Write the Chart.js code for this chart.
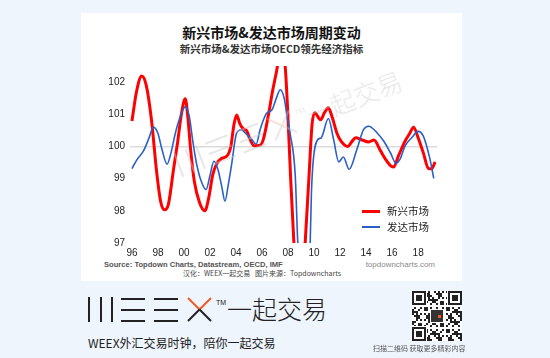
<!DOCTYPE html>
<html><head><meta charset="utf-8">
<script src="https://cdn.jsdelivr.net/npm/chart.js@4/dist/chart.umd.min.js"></script>
<style>
html,body{margin:0;padding:0;}
body{width:550px;height:358px;background:#eef5fd;position:relative;overflow:hidden;font-family:"Liberation Sans",Arial,sans-serif;}
.abs{position:absolute;white-space:nowrap;}
#card{left:81px;top:13px;width:381px;height:268px;background:#fff;}
#title{left:81px;width:381px;top:22px;text-align:center;font-weight:bold;font-size:14px;line-height:20px;font-family:"Noto Sans CJK SC",sans-serif;color:#111;}
#subtitle{left:81px;width:381px;top:42px;text-align:center;font-weight:bold;font-size:10.5px;line-height:14px;font-family:"Noto Sans CJK SC",sans-serif;color:#333;}
#chartwrap{left:95px;top:55px;width:360px;height:205px;}
.legline{height:3px;width:18px;}
.legtxt{font-size:10.5px;line-height:12px;font-family:"Noto Sans CJK SC",sans-serif;color:#222;}
#source{left:104px;top:260px;font-size:7.6px;font-weight:bold;color:#555;line-height:10px;}
#site{left:300px;width:135px;text-align:right;top:260px;font-size:8px;color:#8a8a8a;line-height:10px;}
#credit{left:81px;width:362px;text-align:center;top:269px;font-size:7px;color:#444;line-height:9px;font-family:"Noto Sans CJK SC",sans-serif;}
.logo{position:absolute;width:240px;height:25px;}
.logo div{position:absolute;}
.logo .bar{width:2px;height:25px;top:0;}
.logo .hl{height:2px;width:24px;}
.logo .tm{font-size:7px;line-height:8px;top:2px;left:128px;font-family:"Liberation Sans",sans-serif;}
.logo .cn{left:139px;top:-6px;font-size:25px;line-height:34px;font-weight:300;font-family:"Noto Sans CJK SC",sans-serif;letter-spacing:0px;}
#slogan{left:88px;top:334px;font-size:12px;line-height:17px;color:#222;font-family:"Noto Sans CJK SC",sans-serif;}
#qrcap{left:373px;top:343px;font-size:7px;line-height:10px;color:#555;font-family:"Noto Sans CJK SC",sans-serif;}
#qr{left:412px;top:291px;}
</style></head>
<body>
<div id="card" class="abs"></div>
<div id="title" class="abs">新兴市场&amp;发达市场周期变动</div>
<div id="subtitle" class="abs">新兴市场&amp;发达市场OECD领先经济指标</div>
<div id="chartwrap" class="abs"><canvas id="c" width="360" height="205"></canvas></div>
<div id="legend"></div>
<div id="source" class="abs">Source: Topdown Charts, Datastream, OECD, IMF</div>
<div id="site" class="abs">topdowncharts.com</div>
<div id="credit" class="abs">汉化：WEEX一起交易&nbsp;&nbsp;&nbsp;图片来源：Topdowncharts</div>
<div id="slogan" class="abs">WEEX外汇交易时钟，陪你一起交易</div>
<canvas id="qr" class="abs" width="50" height="50"></canvas>
<div id="qrcap" class="abs">扫描二维码 获取更多精彩内容</div>
<script>
// ---- data ----
const seriesNames = ['新兴市场', '发达市场'];
const emYears = [1996.0,1996.35,1996.75,1997.1,1997.5,1997.9,1998.2,1998.5,1998.8,1999.2,1999.5,1999.8,2000.1,2000.3,2000.5,2000.8,2001.2,2001.6,2001.9,2002.2,2002.5,2002.9,2003.3,2003.6,2003.85,2004.05,2004.3,2004.55,2004.8,2005.1,2005.4,2005.85,2006.1,2006.5,2006.8,2007.1,2007.4,2007.7,2007.95,2008.2,2008.45,2008.7,2009.0,2009.3,2009.6,2009.85,2010.05,2010.5,2010.8,2011.1,2011.4,2011.75,2012.1,2012.6,2012.9,2013.2,2013.7,2014.2,2014.6,2015.1,2015.5,2015.85,2016.1,2016.5,2017.0,2017.35,2017.65,2018.0,2018.4,2018.8,2019.05,2019.3];
const emValues = [100.79,101.7,102.19,101.9,100.83,99.2,98.3,98.03,98.2,99.3,100.1,101.0,101.48,100.9,99.95,98.9,98.25,98.0,98.4,99.1,99.45,99.63,99.7,100.0,100.7,100.98,100.7,100.55,100.5,100.2,100.02,100.04,100.22,101.0,101.7,102.3,102.9,102.8,101.3,99.0,97.0,95.3,95.0,96.9,99.0,100.7,101.05,100.83,101.05,101.2,100.9,100.42,100.15,100.0,100.15,100.27,100.2,100.14,100.2,99.87,99.6,99.41,99.36,99.72,100.17,100.4,100.6,100.27,99.8,99.31,99.31,99.52];
const dmYears = [1996.0,1996.4,1996.9,1997.3,1997.65,1998.0,1998.3,1998.7,1999.0,1999.3,1999.55,2000.1,2000.4,2000.7,2000.95,2001.3,2001.7,2002.0,2002.3,2002.6,2002.9,2003.15,2003.4,2003.65,2004.05,2004.4,2004.8,2005.2,2005.55,2005.85,2006.35,2006.75,2007.1,2007.4,2007.7,2007.9,2008.15,2008.55,2008.75,2009.1,2009.45,2009.7,2009.8,2009.95,2010.3,2010.55,2011.1,2011.5,2011.9,2012.25,2012.7,2013.3,2013.8,2014.2,2014.85,2015.35,2015.85,2016.3,2016.6,2017.0,2017.5,2018.0,2018.4,2018.9,2019.2];
const dmValues = [99.31,99.6,99.87,100.25,100.6,100.4,99.92,99.45,99.8,100.35,100.73,101.23,100.95,100.1,99.5,98.95,98.66,99.1,99.54,99.3,98.76,98.3,98.8,99.41,100.42,100.52,100.38,100.22,100.07,100.52,101.03,101.13,101.5,101.76,101.5,101.0,100.42,99.12,97.0,95.5,95.6,97.0,98.6,99.62,100.22,100.27,100.87,100.22,99.52,99.67,99.29,99.92,100.52,100.63,100.42,100.17,99.82,99.48,99.6,100.02,100.27,100.47,100.32,99.62,99.01];
const tickYears = [1996,1998,2000,2002,2004,2006,2008,2010,2012,2014,2016,2018];
const tickLabels = ['96','98','00','02','04','06','08','10','12','14','16','18'];
const yTicks = [97,98,99,100,101,102];
const seriesColors = ['#ff0000', '#2b5fc8'];

// ---- chart ----
const tickFont = {family:'"Liberation Sans", Arial, sans-serif', size:10};
new Chart(document.getElementById('c'), {
  type:'line',
  data:{datasets:[
    {label:seriesNames[0], data:emYears.map((x,i)=>({x:x,y:emValues[i]})), borderColor:seriesColors[0], borderWidth:3, pointRadius:0, cubicInterpolationMode:'monotone', fill:false, order:2},
    {label:seriesNames[1], data:dmYears.map((x,i)=>({x:x,y:dmValues[i]})), borderColor:seriesColors[1], borderWidth:1.6, pointRadius:0, cubicInterpolationMode:'monotone', fill:false, order:1}
  ]},
  options:{
    responsive:false, animation:false, events:[],
    layout:{padding:{top:6.5,right:18,left:0,bottom:0}},
    plugins:{legend:{display:false}, tooltip:{enabled:false}},
    scales:{
      x:{type:'linear', min:1995.85, max:2019.45,
        afterBuildTicks:s=>{s.ticks=tickYears.map(v=>({value:v}));},
        afterFit:s=>{s.height=17;},
        grid:{display:false, drawTicks:false}, border:{display:false},
        ticks:{padding:4, font:tickFont, color:'#222', maxRotation:0, autoSkip:false,
          callback:v=>{const i=tickYears.indexOf(v);return i>=0?tickLabels[i]:'';}}},
      y:{type:'linear', min:97, max:102.5,
        afterBuildTicks:s=>{s.ticks=yTicks.map(v=>({value:v}));},
        afterFit:s=>{s.width=35;},
        grid:{drawTicks:false, lineWidth:1.5, color:c=>(c.tick && c.tick.value===100)?'#dcdcdc':'rgba(0,0,0,0)'},
        border:{display:false},
        ticks:{padding:5, font:tickFont, color:'#222'}}
    }
  }
});

// ---- legend ----
const leg = document.getElementById('legend');
const legY = [211, 227];
seriesNames.forEach((n,i)=>{
  const l = document.createElement('div');
  l.className='abs legline';
  l.style.left='362px'; l.style.background=seriesColors[i];
  l.style.height=(i===0?3:1.8)+'px';
  l.style.top=(legY[i]-(i===0?1.5:0.9))+'px';
  leg.appendChild(l);
  const t = document.createElement('div');
  t.className='abs legtxt'; t.textContent=n;
  t.style.left='387px'; t.style.top=(legY[i]-6.5)+'px';
  leg.appendChild(t);
});

// ---- logo ----
function makeLogo(left, top, dark, orange, cnColor){
  const g = document.createElement('div');
  g.className='logo'; g.style.left=left+'px'; g.style.top=top+'px';
  [0,11.7,23.3].forEach(x=>{const b=document.createElement('div');b.className='bar';b.style.left=x+'px';b.style.background=dark;g.appendChild(b);});
  [33,66].forEach(x=>{[0.5,11.5,22.5].forEach(y=>{const h=document.createElement('div');h.className='hl';h.style.left=x+'px';h.style.top=y+'px';h.style.background=dark;g.appendChild(h);});});
  const svgNS='http://www.w3.org/2000/svg';
  const s=document.createElementNS(svgNS,'svg');
  s.setAttribute('width','26');s.setAttribute('height','26');
  s.style.position='absolute';s.style.left='99px';s.style.top='0px';
  const mk=(x1,y1,x2,y2,c)=>{const ln=document.createElementNS(svgNS,'line');ln.setAttribute('x1',x1);ln.setAttribute('y1',y1);ln.setAttribute('x2',x2);ln.setAttribute('y2',y2);ln.setAttribute('stroke',c);ln.setAttribute('stroke-width','2');s.appendChild(ln);};
  mk(1,1,12.5,12.5,orange); mk(24,1,12.5,12.5,orange);
  mk(12.5,12.5,1,24,dark); mk(12.5,12.5,24,24,dark);
  g.appendChild(s);
  const tm=document.createElement('div');tm.className='tm';tm.textContent='TM';tm.style.color=dark;g.appendChild(tm);
  const cn=document.createElement('div');cn.className='cn';cn.textContent='一起交易';cn.style.color=cnColor;g.appendChild(cn);
  document.body.appendChild(g);
  return g;
}
makeLogo(88, 297, '#222', '#f05a24', '#222');
const wm = makeLogo(170, 109.5, '#c8c8c8', '#f3b7a0', '#c8c8c8');
wm.style.transform='rotate(-21deg)';
wm.style.transformOrigin='120px 12.5px';
wm.style.opacity='0.45';

// ---- QR decoration (deterministic pattern) ----
const q = document.getElementById('qr').getContext('2d');
q.fillStyle='#fff'; q.fillRect(0,0,50,50);
q.fillStyle='#222';
const cell=2;
for(let r=0;r<25;r++){for(let c=0;c<25;c++){
  if(((r*31+c*17+r*c*7)%11)<5) q.fillRect(c*cell,r*cell,cell,cell);
}}
function finder(x,y){q.fillStyle='#fff';q.fillRect(x-1,y-1,16,16);q.fillStyle='#222';q.fillRect(x,y,14,14);q.fillStyle='#fff';q.fillRect(x+2,y+2,10,10);q.fillStyle='#222';q.fillRect(x+4,y+4,6,6);}
finder(0,0); finder(36,0); finder(0,36);
q.fillStyle='#fff';q.fillRect(18,18,14,14);q.fillStyle='#333';q.fillRect(19,19,12,12);
q.fillStyle='#f05a24';q.fillRect(26,24,3,3);
</script>
</body></html>
